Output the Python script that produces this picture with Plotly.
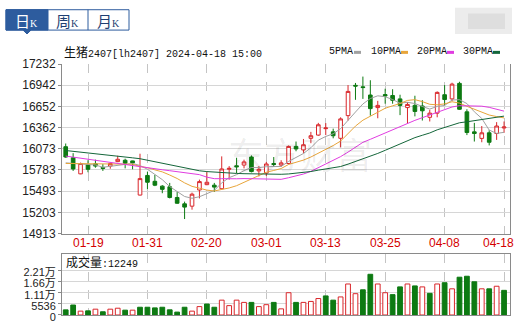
import numpy as np
import pandas as pd
import plotly.graph_objects as go

# ---------------- data ----------------
dates = [
    "2024-01-16", "2024-01-17", "2024-01-18", "2024-01-19", "2024-01-22", "2024-01-23",
    "2024-01-24", "2024-01-25", "2024-01-26", "2024-01-29", "2024-01-30", "2024-01-31",
    "2024-02-01", "2024-02-02", "2024-02-05", "2024-02-06", "2024-02-07", "2024-02-08",
    "2024-02-19", "2024-02-20", "2024-02-21", "2024-02-22", "2024-02-23", "2024-02-26",
    "2024-02-27", "2024-02-28", "2024-02-29", "2024-03-01", "2024-03-04", "2024-03-05",
    "2024-03-06", "2024-03-07", "2024-03-08", "2024-03-11", "2024-03-12", "2024-03-13",
    "2024-03-14", "2024-03-15", "2024-03-18", "2024-03-19", "2024-03-20", "2024-03-21",
    "2024-03-22", "2024-03-25", "2024-03-26", "2024-03-27", "2024-03-28", "2024-03-29",
    "2024-04-01", "2024-04-02", "2024-04-03", "2024-04-08", "2024-04-09", "2024-04-10",
    "2024-04-11", "2024-04-12", "2024-04-15", "2024-04-16", "2024-04-17", "2024-04-18",
]
opens = [
    16101, 15950, 15730, 15854, 15867, 15818, 15836, 15897, 15916, 15907,
    15440, 15708, 15628, 15562, 15553, 15407, 15320, 15288, 15509, 15582,
    15575, 15527, 15792, 15840, 15850, 15960, 15770, 15740, 15871, 15850,
    15871, 16105, 16057, 16216, 16260, 16348, 16304, 16216, 16526, 16940,
    16920, 16808, 16636, 16814, 16801, 16755, 16636, 16666, 16658, 16503,
    16560, 16812, 16755, 16967, 16578, 16304, 16215, 16291, 16282, 16357,
]
highs = [
    16145, 16013, 15884, 15916, 15924, 15863, 15884, 15977, 15937, 15910,
    16005, 15761, 15717, 15575, 15606, 15483, 15350, 15473, 15651, 15754,
    15606, 15969, 15836, 15950, 15924, 15982, 15836, 15893, 15960, 15916,
    16118, 16172, 16207, 16304, 16427, 16424, 16348, 16503, 16944, 16973,
    17060, 17010, 16728, 16894, 16887, 16812, 16711, 16798, 16737, 16605,
    16857, 16944, 16976, 16989, 16613, 16427, 16384, 16327, 16437, 16446,
]
lows = [
    15950, 15770, 15725, 15752, 15814, 15770, 15800, 15890, 15805, 15792,
    15435, 15518, 15562, 15465, 15394, 15320, 15112, 15240, 15394, 15575,
    15483, 15527, 15651, 15738, 15805, 15750, 15695, 15700, 15827, 15827,
    15858, 16039, 16017, 16149, 16250, 16260, 16216, 16092, 16459, 16742,
    16755, 16525, 16490, 16689, 16689, 16533, 16414, 16516, 16459, 16446,
    16503, 16666, 16724, 16605, 16260, 16172, 16162, 16119, 16194, 16291,
]
closes = [
    15960, 15797, 15871, 15792, 15836, 15805, 15871, 15929, 15875, 15880,
    15665, 15615, 15575, 15518, 15407, 15328, 15275, 15452, 15624, 15615,
    15549, 15797, 15805, 15827, 15893, 15761, 15792, 15865, 15858, 15880,
    16105, 16070, 16128, 16251, 16401, 16357, 16251, 16481, 16857, 16930,
    16910, 16622, 16666, 16795, 16735, 16666, 16679, 16583, 16592, 16560,
    16844, 16746, 16957, 16613, 16295, 16282, 16291, 16162, 16384, 16370,
]
volumes = [
    2550, 4960, 1925, 2070, 2890, 1600, 2890, 3370, 2400, 2400,
    3850, 3850, 3530, 3850, 2570, 1440, 3850, 1925, 4170, 5450,
    3850, 7380, 4650, 7380, 6260, 6260, 4170, 5130, 6260, 3050,
    11070, 6260, 6260, 6740, 8180, 9470, 7380, 8980, 15400, 10590,
    12520, 20220, 15400, 11070, 10110, 13960, 15400, 14440, 13960, 10750,
    15400, 16030, 13000, 18770, 19250, 16510, 13000, 13000, 14290, 12249,
]
ma5_head = [15880, 15872, 15865, 15858]
ma10_head = [15872, 15870, 15868, 15867, 15866, 15865, 15864, 15863, 15862]
ma20_head = [15973, 15958, 15944, 15929, 15915, 15899, 15884, 15870, 15855, 15841,
             15827, 15814, 15801, 15786, 15773, 15760, 15746, 15733, 15719]
ma30_head = [16049, 16039, 16027, 16017, 16005, 15994, 15982, 15972, 15960, 15949,
             15937, 15916, 15896, 15875, 15854, 15834, 15813, 15793, 15772, 15761,
             15753, 15746, 15741, 15736, 15732, 15729, 15728, 15727, 15725]

tick_dates = ["2024-01-19", "2024-01-31", "2024-02-20", "2024-03-01",
              "2024-03-13", "2024-03-25", "2024-04-08", "2024-04-18"]
tick_text = ["01-19", "01-31", "02-20", "03-01", "03-13", "03-25", "04-08", "04-18"]
price_ticks = [14913, 15203, 15493, 15783, 16073, 16362, 16652, 16942, 17232]
vol_ticks = [0, 5536, 11072, 16608, 22144]
vol_tick_text = ["0", "5536", "1.11万", "1.66万", "2.21万"]
title_text = "生猪2407[lh2407] 2024-04-18 15:00"
ma_names = ["5PMA", "10PMA", "20PMA", "30PMA"]
ma_windows = [5, 10, 20, 30]
ma_heads = [ma5_head, ma10_head, ma20_head, ma30_head]

# ---------------- styling ----------------
RED = "#d9262a"
GREEN = "#0d7a12"
DATE_RED = "#d40000"
MA_COLORS = ["#a0a0a0", "#e8a53a", "#e03ce0", "#14663a"]
W, H = 517, 328
ML, MR, MT, MB = 62, 7, 64, 5


def px(x):
    return (x - ML) / (W - ML - MR)


def py(y):
    return (H - MB - y) / (H - MT - MB)


def moving_avg(vals, n, head):
    out = pd.Series(vals, dtype=float).rolling(n).mean().tolist()
    for i, v in enumerate(head):
        out[i] = v
    return out


fig = go.Figure()

fig.add_trace(go.Candlestick(
    x=dates, open=opens, high=highs, low=lows, close=closes,
    increasing=dict(line=dict(color=RED, width=1), fillcolor="white"),
    decreasing=dict(line=dict(color=GREEN, width=1), fillcolor=GREEN),
    whiskerwidth=0, xaxis="x", yaxis="y", showlegend=False, hoverinfo="skip",
))

for name, n, head, col in zip(ma_names, ma_windows, ma_heads, MA_COLORS):
    fig.add_trace(go.Scatter(
        x=dates, y=moving_avg(closes, n, head), mode="lines",
        line=dict(color=col, width=1), name=name, showlegend=False,
        xaxis="x", yaxis="y", hoverinfo="skip",
    ))

vol_up = [closes[i] >= (closes[i - 1] if i > 0 else opens[i]) for i in range(len(closes))]
fig.add_trace(go.Bar(
    x=dates, y=volumes, xaxis="x2", yaxis="y2", showlegend=False, hoverinfo="skip",
    marker=dict(color=["white" if u else GREEN for u in vol_up],
                line=dict(color=[RED if u else GREEN for u in vol_up], width=1)),
))

axis_font = dict(family="Liberation Sans, Arial, sans-serif", size=12, color="#222")
xcommon = dict(
    type="category", categoryorder="array", categoryarray=dates,
    range=[-0.5, 59.8], tickmode="array", tickvals=tick_dates, ticktext=tick_text,
    showgrid=True, gridcolor="#c4c4c4", griddash="dash", gridwidth=1,
    showline=True, linecolor="#8a8a8a", linewidth=1, ticks="", zeroline=False,
    domain=[0, 1], fixedrange=True, showticklabels=False,
)

fig.update_layout(
    width=W, height=H, autosize=False,
    margin=dict(l=ML, r=MR, t=MT, b=MB, pad=0),
    paper_bgcolor="white", plot_bgcolor="white",
    boxgap=0.3, bargap=0.36,
    font=dict(family="Liberation Sans, Noto Sans CJK SC, sans-serif", size=12, color="#222"),
    xaxis=dict(xcommon, anchor="y", rangeslider=dict(visible=False)),
    xaxis2=dict(xcommon, anchor="y2", mirror=True),
    yaxis=dict(domain=[py(239), 1], range=[price_ticks[0], price_ticks[-1]],
               tickmode="array", tickvals=price_ticks, ticktext=[str(v) for v in price_ticks],
               showgrid=True, gridcolor="#d6d6d6", showline=True, linecolor="#8a8a8a",
               mirror=True, ticks="outside", ticklen=3, tickcolor="#8a8a8a",
               tickfont=axis_font, zeroline=False, anchor="x", fixedrange=True,
               ticklabeloverflow="allow"),
    yaxis2=dict(domain=[0, py(260)], range=[0, vol_ticks[-1] * 63 / 46],
                tickmode="array", tickvals=vol_ticks, ticktext=vol_tick_text,
                showgrid=True, gridcolor="#d6d6d6", showline=True, linecolor="#8a8a8a",
                mirror=True, ticks="outside", ticklen=3, tickcolor="#8a8a8a",
                tickfont=dict(family="Liberation Sans, Noto Sans CJK SC, sans-serif", size=11, color="#222"),
                zeroline=False, anchor="x2", fixedrange=True, ticklabeloverflow="allow",
                ticklabelshift=2),
)

shapes = []
annotations = []

# date labels (red) under the price panel, placed on the category axis
for k, (d, t) in enumerate(zip(tick_dates, tick_text)):
    last = k == len(tick_dates) - 1
    annotations.append(dict(x=d, xref="x", y=py(249), yref="paper", showarrow=False, text=t,
                            font=dict(family="Liberation Sans, Arial, sans-serif", size=12, color=DATE_RED),
                            xanchor="right" if last else "center", xshift=12 if last else 0,
                            yanchor="middle"))

# watermark
annotations.append(dict(x=px(300), y=py(156), xref="paper", yref="paper", showarrow=False,
                        text="东方财富", font=dict(family="Noto Sans CJK SC", size=36, color="rgba(0,0,0,0.08)"),
                        xanchor="center", yanchor="middle"))

# tabs
BLUE = "#2d5c9e"
shapes.append(dict(type="rect", xref="paper", yref="paper", x0=px(6), x1=px(129), y0=py(29), y1=py(8),
                   line=dict(color=BLUE, width=1), fillcolor="white", layer="above"))
shapes.append(dict(type="rect", xref="paper", yref="paper", x0=px(6), x1=px(48), y0=py(29), y1=py(8),
                   line=dict(color=BLUE, width=1), fillcolor=BLUE, layer="above"))
shapes.append(dict(type="line", xref="paper", yref="paper", x0=px(88), x1=px(88), y0=py(29), y1=py(8),
                   line=dict(color=BLUE, width=1)))
shapes.append(dict(type="path", xref="paper", yref="paper",
                   path="M {} {} L {} {} L {} {} Z".format(px(23), py(29), px(31), py(29), px(27), py(33)),
                   fillcolor=BLUE, line=dict(color=BLUE, width=1)))
for label, cx, col in [("日", 26, "white"), ("周", 67, "#1f3f72"), ("月", 108, "#1f3f72")]:
    annotations.append(dict(x=px(cx), y=py(19), xref="paper", yref="paper", showarrow=False,
                            text=label + "<span style='font-size:10px;font-family:Liberation Serif'>K</span>",
                            font=dict(family="Noto Sans CJK SC", size=15, color=col),
                            xanchor="center", yanchor="middle"))

# blurred logo block top-right
shapes.append(dict(type="rect", xref="paper", yref="paper", x0=px(455), x1=px(512), y0=py(33), y1=py(6),
                   line=dict(width=0), fillcolor="#ececec"))
shapes.append(dict(type="rect", xref="paper", yref="paper", x0=px(468), x1=px(505), y0=py(28), y1=py(12),
                   line=dict(width=0), fillcolor="#dedede"))

# title
annotations.append(dict(x=px(62), y=py(51), xref="paper", yref="paper", showarrow=False,
                        text="<span style='font-family:Noto Sans CJK SC;font-size:12px'>" + title_text[:2] + "</span>" + title_text[2:],
                        font=dict(family="Liberation Mono, monospace", size=10, color="#111"),
                        xanchor="left", yanchor="middle"))

# MA legend
leg_x = [327, 369, 415, 461]
sw_x = [354, 401, 447, 493]
for name, lx, sx, col in zip(ma_names, leg_x, sw_x, MA_COLORS):
    annotations.append(dict(x=px(lx), y=py(51), xref="paper", yref="paper", showarrow=False,
                            text=name, font=dict(family="Liberation Mono, monospace", size=10, color="#111"),
                            xanchor="left", yanchor="middle"))
    shapes.append(dict(type="line", xref="paper", yref="paper", x0=px(sx), x1=px(sx + 7),
                       y0=py(52), y1=py(52), line=dict(color=col, width=3)))

# volume title
annotations.append(dict(x=px(64), y=py(268), xref="paper", yref="paper", showarrow=False,
                        text="<span style='font-family:Noto Sans CJK SC;font-size:12px'>成交量</span>:" + str(volumes[-1]),
                        font=dict(family="Liberation Mono, monospace", size=10, color="#111"),
                        xanchor="left", yanchor="middle"))

fig.update_layout(shapes=shapes, annotations=annotations)
fig.write_html("out.html", config=dict(displayModeBar=False, staticPlot=True))
